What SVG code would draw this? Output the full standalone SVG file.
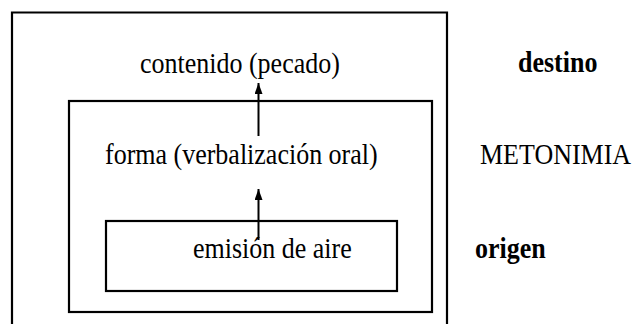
<svg xmlns="http://www.w3.org/2000/svg" width="638" height="324" viewBox="0 0 638 324">
<style>
.box{fill:none;stroke:#000;stroke-width:2.2}
text{font-family:'Liberation Serif','Times New Roman',serif;font-size:26px;fill:#000}
.b{font-weight:bold}
.c{stroke:#000;stroke-width:2;fill:none}
</style>
<defs>
<marker id="ah" viewBox="0 0 11 8" refX="11" refY="4" markerWidth="11" markerHeight="8" markerUnits="userSpaceOnUse" orient="auto">
<path d="M0,0 L11,4 L0,8 Z" fill="#000"/>
</marker>
</defs>
<rect width="638" height="324" fill="#fff"/>
<g id="outer">
<path class="box" d="M12,330 V12.5 H447 V330"/>
<text transform="translate(140,73) scale(1,1.15)">contenido (pecado)</text>
</g>
<g id="middle">
<rect class="box" x="69" y="101" width="363" height="211"/>
<text transform="translate(105,164) scale(1,1.15)">forma (verbalización oral)</text>
</g>
<g id="inner">
<rect class="box" x="106" y="221" width="291" height="70"/>
<text transform="translate(193,258) scale(1,1.15)">emisión de aire</text>
</g>
<g id="labels">
<text class="b" transform="translate(518,72) scale(1,1.15)">destino</text>
<text transform="translate(480,164) scale(1,1.15)">METONIMIA</text>
<text class="b" transform="translate(475,258) scale(1,1.15)">origen</text>
</g>
<g id="connectors">
<line class="c" x1="258.5" y1="136" x2="258.5" y2="83" marker-end="url(#ah)"/>
<line class="c" x1="258.5" y1="240" x2="258.5" y2="189" marker-end="url(#ah)"/>
</g>
</svg>
